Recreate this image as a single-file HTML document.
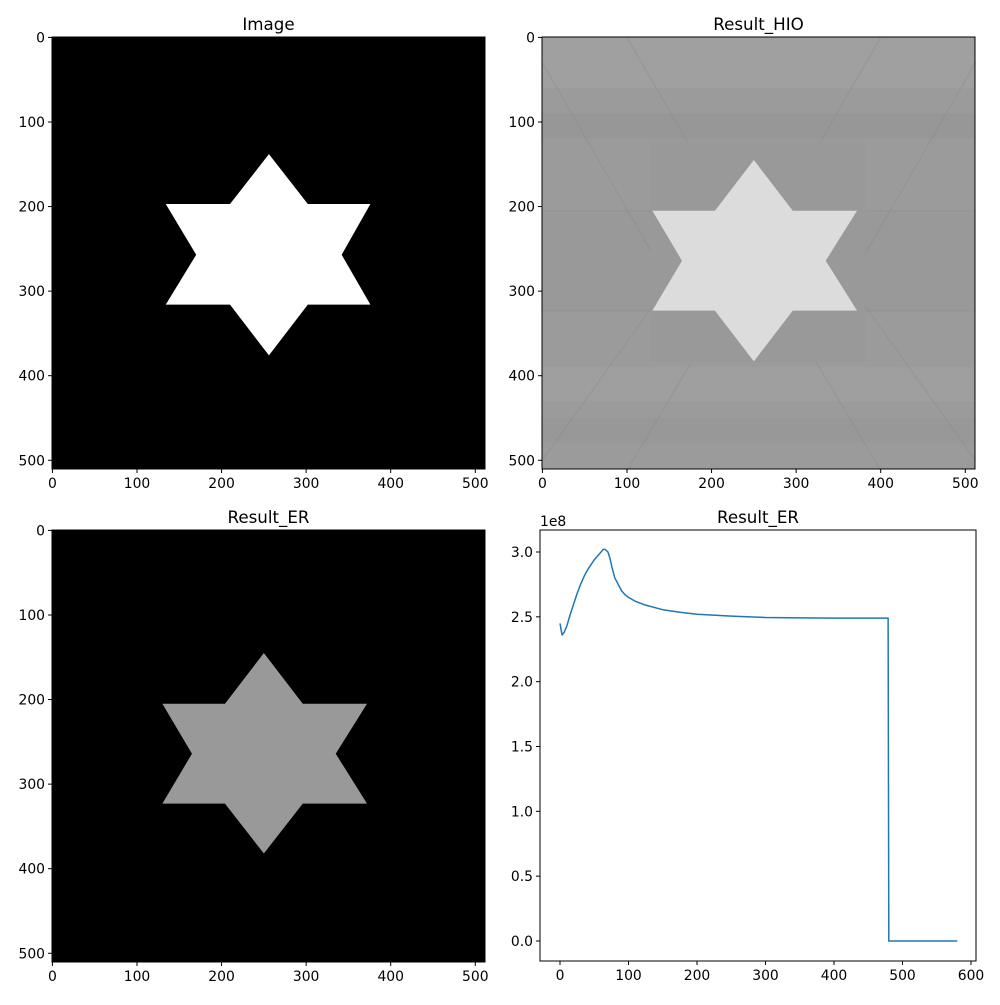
<!DOCTYPE html>
<html><head><meta charset="utf-8"><style>
body{margin:0;background:#fff;font-family:"Liberation Sans",sans-serif}
svg text{font-family:"DejaVu Sans","Liberation Sans",sans-serif;font-size:13.9px;fill:#000}
svg text.ttl{font-size:16.7px}
</style></head><body>
<svg id="fig" width="1000" height="1000" viewBox="0 0 1000 1000" xmlns="http://www.w3.org/2000/svg">
<rect width="1000" height="1000" fill="#fff"/>
</svg>
<script>
const imgTicks=[0,100,200,300,400,500];
const lossX=[0,3,6,10,15,20,25,30,35,40,45,50,55,60,63,66,70,73,76,80,85,90,95,100,110,125,150,175,200,250,300,350,400,450,479,480,500,550,580];
const lossY=[2.45,2.36,2.38,2.43,2.52,2.6,2.68,2.75,2.81,2.86,2.9,2.94,2.97,3.0,3.02,3.02,3.0,2.95,2.88,2.8,2.75,2.7,2.67,2.65,2.62,2.59,2.555,2.535,2.52,2.505,2.495,2.492,2.49,2.49,2.49,0,0,0,0];
const lossXTicks=[0,100,200,300,400,500,600];
const lossYTicks=[0,0.5,1.0,1.5,2.0,2.5,3.0];
const starImage=[[256,138],[302,197],[376,197],[342,257],[376,316],[302,316],[256,376],[210,316],[134,316],[170,257],[134,197],[210,197]];
const starHIO=[[250,145],[296,205],[372,205],[335,264],[372,323],[296,323],[250,383],[204,323],[130,323],[165,264],[130,205],[204,205]];
const starER=[[250,145],[296,205],[372,205],[335,264],[372,323],[296,323],[250,382],[204,323],[130,323],[165,264],[130,205],[204,205]];

const NS='http://www.w3.org/2000/svg';
const fig=document.getElementById('fig');
function mk(tag,attrs,parent){const e=document.createElementNS(NS,tag);for(const k in attrs)e.setAttribute(k,attrs[k]);(parent||fig).appendChild(e);return e;}

function imagePanel(x0,y0,title,name,draw){
  const W=433,H=432,s=W/512;
  const g=mk('g',{});
  
  
  const X=v=>x0+(v+0.5)*s, Y=v=>y0+(v+0.5)*s;
  draw(g,X,Y,s);
  const fr=mk('rect',{x:x0,y:y0,width:W,height:H,fill:'none',stroke:'#000','stroke-width':1},g);
  
  
  imgTicks.forEach(t=>{
    mk('line',{x1:X(t),x2:X(t),y1:y0+H,y2:y0+H+4,stroke:'#000'},g);
    const tx=mk('text',{x:X(t),y:y0+H+19,'text-anchor':'middle'},g);tx.textContent=t;
    
    
    mk('line',{x1:x0-4,x2:x0,y1:Y(t),y2:Y(t),stroke:'#000'},g);
    const ty=mk('text',{x:x0-7,y:Y(t)+5,'text-anchor':'end'},g);ty.textContent=t;
    
    
  });
  const tt=mk('text',{x:x0+W/2,y:y0-7,'text-anchor':'middle','class':'ttl'},g);tt.textContent=title;
  
  
}
function poly(g,pts,X,Y,fill){return mk('polygon',{points:pts.map(p=>X(p[0])+','+Y(p[1])).join(' '),fill:fill},g);}

imagePanel(52,37,'Image','image-panel',(g,X,Y,s)=>{
  mk('rect',{x:52,y:37,width:433,height:432,fill:'#000'},g);
  const p=poly(g,starImage,X,Y,'#fff');
  
  
});
imagePanel(542,37,'Result_HIO','hio-panel',(g,X,Y,s)=>{
  mk('rect',{x:542,y:37,width:433,height:432,fill:'#9b9b9b'},g);
  [[0,60,'#a3a3a3'],[90,30,'#959595'],[205,118,'#979797'],[390,40,'#a2a2a2'],[450,30,'#969696']].forEach(b=>mk('rect',{x:542,y:Y(b[0]),width:433,height:b[1]*s,fill:b[2],opacity:0.6},g));
  const L=[[[0,30],[150,290]],[[150,290],[0,500]],[[512,30],[362,290]],[[362,290],[512,500]],[[100,0],[250,260]],[[400,0],[250,260]],[[100,512],[250,260]],[[400,512],[250,260]],[[0,205],[512,205]],[[0,323],[512,323]]];
  L.forEach(l=>mk('line',{x1:X(l[0][0]),y1:Y(l[0][1]),x2:X(l[1][0]),y2:Y(l[1][1]),stroke:'#8a8a8a','stroke-width':1.5,opacity:0.35},g));
  const r=mk('rect',{x:X(128),y:Y(125),width:(382-128)*s,height:(384-125)*s,fill:'#999'},g);
  
  
  const p=poly(g,starHIO,X,Y,'#dcdcdc');
  
  
});
imagePanel(52,530,'Result_ER','er-panel',(g,X,Y,s)=>{
  mk('rect',{x:52,y:530,width:433,height:432,fill:'#000'},g);
  const p=poly(g,starER,X,Y,'#999');
  
  
});

(function(){
  const x0=540,x1=976,y0=530,y1=961;
  const g=mk('g',{});
  
  
  const X=v=>560+v*(971-560)/600;
  const Y=v=>941-v*(941-552)/3;
  const d=lossX.map((x,i)=>(i?'L':'M')+X(x).toFixed(2)+','+Y(lossY[i]).toFixed(2)).join(' ');
  const path=mk('path',{d:d,fill:'none',stroke:'#1f77b4','stroke-width':1.5,'stroke-linejoin':'round'},g);
  
  
  const fr=mk('rect',{x:x0,y:y0,width:x1-x0,height:y1-y0,fill:'none',stroke:'#000'},g);
  
  
  lossXTicks.forEach(t=>{
    mk('line',{x1:X(t),x2:X(t),y1:y1,y2:y1+4,stroke:'#000'},g);
    const tx=mk('text',{x:X(t),y:y1+19,'text-anchor':'middle'},g);tx.textContent=t;
    
    
  });
  lossYTicks.forEach(t=>{
    mk('line',{x1:x0-4,x2:x0,y1:Y(t),y2:Y(t),stroke:'#000'},g);
    const ty=mk('text',{x:x0-7,y:Y(t)+5,'text-anchor':'end'},g);ty.textContent=t.toFixed(1);
    
    
  });
  const ex=mk('text',{x:x0,y:y0-4},g);ex.textContent='1e8';
  
  
  const tt=mk('text',{x:(x0+x1)/2,y:y0-7,'text-anchor':'middle','class':'ttl'},g);tt.textContent='Result_ER';
  
  
})();
</script>
</body></html>
